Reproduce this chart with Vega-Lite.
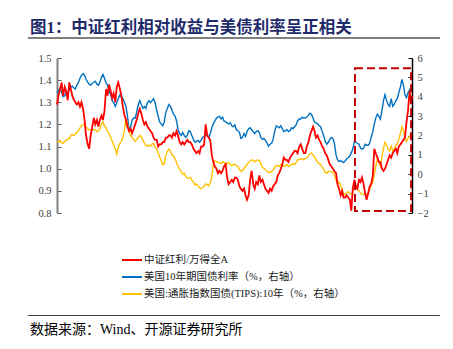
{
"$schema": "https://vega.github.io/schema/vega-lite/v6.json",
"width": 355, "height": 155,
"autosize": "none",
"padding": {"left": 57, "top": 58, "right": 41, "bottom": 136},
"background": "white",
"title": {"text": "图1：中证红利相对收益与美债利率呈正相关", "anchor": "start", "frame": "group", "dx": -27, "offset": 1, "fontSize": 16.5, "fontWeight": "bold", "color": "#1F2C6B", "font": "Liberation Serif, Noto Sans CJK SC"},
"config": {"view": {"stroke": null}, "axis": {"grid": false, "labelFont": "Liberation Serif", "labelFontSize": 10.5, "labelColor": "#404040"}},
"data": {"values": [
{"t":2005.00,"red":1.29,"ust":4.2,"tips":1.7},
{"t":2005.08,"red":1.33,"ust":4.3,"tips":1.65},
{"t":2005.17,"red":1.36,"ust":4.45,"tips":1.75},
{"t":2005.25,"red":1.39,"ust":4.25,"tips":1.62},
{"t":2005.33,"red":1.33,"ust":4.0,"tips":1.6},
{"t":2005.42,"red":1.37,"ust":4.05,"tips":1.7},
{"t":2005.50,"red":1.35,"ust":4.25,"tips":1.75},
{"t":2005.58,"red":1.31,"ust":4.2,"tips":1.8},
{"t":2005.67,"red":1.39,"ust":4.35,"tips":1.85},
{"t":2005.75,"red":1.36,"ust":4.5,"tips":2.0},
{"t":2005.83,"red":1.33,"ust":4.55,"tips":2.05},
{"t":2005.92,"red":1.31,"ust":4.45,"tips":2.0},
{"t":2006.00,"red":1.30,"ust":4.4,"tips":2.1},
{"t":2006.08,"red":1.29,"ust":4.6,"tips":2.15},
{"t":2006.17,"red":1.30,"ust":4.75,"tips":2.25},
{"t":2006.25,"red":1.28,"ust":4.95,"tips":2.4},
{"t":2006.33,"red":1.30,"ust":5.1,"tips":2.5},
{"t":2006.42,"red":1.27,"ust":5.2,"tips":2.55},
{"t":2006.50,"red":1.22,"ust":5.1,"tips":2.6},
{"t":2006.58,"red":1.15,"ust":4.9,"tips":2.45},
{"t":2006.67,"red":1.11,"ust":4.75,"tips":2.35},
{"t":2006.75,"red":1.09,"ust":4.65,"tips":2.3},
{"t":2006.83,"red":1.15,"ust":4.6,"tips":2.3},
{"t":2006.92,"red":1.19,"ust":4.7,"tips":2.35},
{"t":2007.00,"red":1.23,"ust":4.75,"tips":2.3},
{"t":2007.08,"red":1.20,"ust":4.8,"tips":2.3},
{"t":2007.17,"red":1.22,"ust":4.65,"tips":2.2},
{"t":2007.25,"red":1.19,"ust":4.6,"tips":2.25},
{"t":2007.33,"red":1.22,"ust":4.75,"tips":2.35},
{"t":2007.42,"red":1.24,"ust":5.0,"tips":2.6},
{"t":2007.50,"red":1.22,"ust":5.15,"tips":2.7},
{"t":2007.58,"red":1.26,"ust":4.95,"tips":2.5},
{"t":2007.67,"red":1.36,"ust":4.7,"tips":2.4},
{"t":2007.75,"red":1.33,"ust":4.6,"tips":2.2},
{"t":2007.83,"red":1.38,"ust":4.3,"tips":2.1},
{"t":2007.92,"red":1.35,"ust":4.1,"tips":1.9},
{"t":2008.00,"red":1.32,"ust":3.8,"tips":1.7},
{"t":2008.08,"red":1.34,"ust":3.7,"tips":1.5},
{"t":2008.17,"red":1.30,"ust":3.5,"tips":1.3},
{"t":2008.25,"red":1.37,"ust":3.7,"tips":1.05},
{"t":2008.33,"red":1.39,"ust":3.9,"tips":1.4},
{"t":2008.42,"red":1.36,"ust":4.1,"tips":1.6},
{"t":2008.50,"red":1.33,"ust":4.0,"tips":1.7},
{"t":2008.58,"red":1.28,"ust":3.9,"tips":1.9},
{"t":2008.67,"red":1.24,"ust":3.7,"tips":2.3},
{"t":2008.75,"red":1.22,"ust":3.5,"tips":2.9},
{"t":2008.83,"red":1.19,"ust":3.0,"tips":2.6},
{"t":2008.92,"red":1.17,"ust":2.3,"tips":2.2},
{"t":2009.00,"red":1.18,"ust":2.4,"tips":2.0},
{"t":2009.08,"red":1.16,"ust":2.8,"tips":1.9},
{"t":2009.17,"red":1.18,"ust":2.9,"tips":1.8},
{"t":2009.25,"red":1.20,"ust":2.9,"tips":1.7},
{"t":2009.33,"red":1.22,"ust":3.2,"tips":1.8},
{"t":2009.42,"red":1.25,"ust":3.6,"tips":1.9},
{"t":2009.50,"red":1.27,"ust":3.8,"tips":2.0},
{"t":2009.58,"red":1.25,"ust":3.6,"tips":1.95},
{"t":2009.67,"red":1.22,"ust":3.4,"tips":1.75},
{"t":2009.75,"red":1.20,"ust":3.5,"tips":1.6},
{"t":2009.83,"red":1.21,"ust":3.4,"tips":1.5},
{"t":2009.92,"red":1.19,"ust":3.7,"tips":1.45},
{"t":2010.00,"red":1.18,"ust":3.8,"tips":1.5},
{"t":2010.08,"red":1.17,"ust":3.7,"tips":1.45},
{"t":2010.17,"red":1.16,"ust":3.8,"tips":1.55},
{"t":2010.25,"red":1.14,"ust":3.9,"tips":1.6},
{"t":2010.33,"red":1.13,"ust":3.7,"tips":1.4},
{"t":2010.42,"red":1.13,"ust":3.3,"tips":1.3},
{"t":2010.50,"red":1.10,"ust":3.0,"tips":1.1},
{"t":2010.58,"red":1.11,"ust":2.7,"tips":0.9},
{"t":2010.67,"red":1.11,"ust":2.6,"tips":0.7},
{"t":2010.75,"red":1.12,"ust":2.5,"tips":0.5},
{"t":2010.83,"red":1.12,"ust":2.7,"tips":0.55},
{"t":2010.92,"red":1.14,"ust":3.2,"tips":1.0},
{"t":2011.00,"red":1.14,"ust":3.4,"tips":1.2},
{"t":2011.08,"red":1.15,"ust":3.6,"tips":1.3},
{"t":2011.17,"red":1.15,"ust":3.5,"tips":1.2},
{"t":2011.25,"red":1.14,"ust":3.3,"tips":1.0},
{"t":2011.33,"red":1.16,"ust":3.1,"tips":0.95},
{"t":2011.42,"red":1.15,"ust":3.0,"tips":0.8},
{"t":2011.50,"red":1.17,"ust":2.75,"tips":0.6},
{"t":2011.58,"red":1.15,"ust":2.3,"tips":0.4},
{"t":2011.67,"red":1.12,"ust":2.1,"tips":0.25},
{"t":2011.75,"red":1.11,"ust":2.0,"tips":0.15},
{"t":2011.83,"red":1.12,"ust":2.15,"tips":0.0},
{"t":2011.92,"red":1.11,"ust":2.0,"tips":0.05},
{"t":2012.00,"red":1.12,"ust":1.9,"tips":-0.1},
{"t":2012.08,"red":1.13,"ust":2.0,"tips":-0.2},
{"t":2012.17,"red":1.12,"ust":2.25,"tips":-0.2},
{"t":2012.25,"red":1.12,"ust":2.2,"tips":-0.15},
{"t":2012.33,"red":1.11,"ust":2.0,"tips":-0.3},
{"t":2012.42,"red":1.09,"ust":1.8,"tips":-0.4},
{"t":2012.50,"red":1.08,"ust":1.65,"tips":-0.55},
{"t":2012.58,"red":1.07,"ust":1.7,"tips":-0.5},
{"t":2012.67,"red":1.08,"ust":1.75,"tips":-0.6},
{"t":2012.75,"red":1.07,"ust":1.65,"tips":-0.7},
{"t":2012.83,"red":1.10,"ust":1.75,"tips":-0.75},
{"t":2012.92,"red":1.10,"ust":1.9,"tips":-0.7},
{"t":2013.00,"red":1.11,"ust":1.95,"tips":-0.6},
{"t":2013.08,"red":1.20,"ust":2.0,"tips":-0.5},
{"t":2013.17,"red":1.15,"ust":2.0,"tips":-0.55},
{"t":2013.25,"red":1.14,"ust":1.9,"tips":-0.6},
{"t":2013.33,"red":1.13,"ust":2.1,"tips":-0.45},
{"t":2013.42,"red":1.06,"ust":2.4,"tips":-0.1},
{"t":2013.50,"red":1.03,"ust":2.6,"tips":0.55},
{"t":2013.58,"red":1.01,"ust":2.75,"tips":0.7},
{"t":2013.67,"red":1.00,"ust":2.9,"tips":0.65},
{"t":2013.75,"red":0.98,"ust":2.95,"tips":0.6},
{"t":2013.83,"red":0.99,"ust":3.0,"tips":0.6},
{"t":2013.92,"red":0.98,"ust":2.85,"tips":0.55},
{"t":2014.00,"red":0.99,"ust":2.95,"tips":0.65},
{"t":2014.08,"red":1.01,"ust":2.75,"tips":0.6},
{"t":2014.17,"red":1.02,"ust":2.7,"tips":0.5},
{"t":2014.25,"red":0.96,"ust":2.65,"tips":0.55},
{"t":2014.33,"red":0.93,"ust":2.6,"tips":0.6},
{"t":2014.42,"red":0.94,"ust":2.65,"tips":0.5},
{"t":2014.50,"red":0.95,"ust":2.5,"tips":0.45},
{"t":2014.58,"red":0.94,"ust":2.45,"tips":0.5},
{"t":2014.67,"red":0.96,"ust":2.55,"tips":0.5},
{"t":2014.75,"red":0.96,"ust":2.3,"tips":0.45},
{"t":2014.83,"red":0.95,"ust":2.25,"tips":0.4},
{"t":2014.92,"red":0.92,"ust":2.15,"tips":0.25},
{"t":2015.00,"red":0.91,"ust":1.85,"tips":0.15},
{"t":2015.08,"red":0.90,"ust":1.9,"tips":0.2},
{"t":2015.17,"red":0.91,"ust":2.1,"tips":0.3},
{"t":2015.25,"red":0.88,"ust":1.95,"tips":0.4},
{"t":2015.33,"red":0.86,"ust":2.2,"tips":0.5},
{"t":2015.42,"red":0.88,"ust":2.35,"tips":0.6},
{"t":2015.50,"red":0.95,"ust":2.4,"tips":0.7},
{"t":2015.58,"red":0.99,"ust":2.3,"tips":0.75},
{"t":2015.67,"red":0.93,"ust":2.2,"tips":0.7},
{"t":2015.75,"red":0.91,"ust":2.1,"tips":0.65},
{"t":2015.83,"red":0.94,"ust":2.2,"tips":0.7},
{"t":2015.92,"red":0.93,"ust":2.25,"tips":0.75},
{"t":2016.00,"red":0.97,"ust":2.15,"tips":0.7},
{"t":2016.08,"red":0.94,"ust":1.9,"tips":0.55},
{"t":2016.17,"red":0.95,"ust":1.8,"tips":0.35},
{"t":2016.25,"red":0.93,"ust":1.85,"tips":0.3},
{"t":2016.33,"red":0.91,"ust":1.75,"tips":0.25},
{"t":2016.42,"red":0.90,"ust":1.6,"tips":0.15},
{"t":2016.50,"red":0.89,"ust":1.45,"tips":0.1},
{"t":2016.58,"red":0.91,"ust":1.55,"tips":0.1},
{"t":2016.67,"red":0.90,"ust":1.6,"tips":0.15},
{"t":2016.75,"red":0.92,"ust":1.8,"tips":0.2},
{"t":2016.83,"red":0.93,"ust":2.2,"tips":0.35},
{"t":2016.92,"red":0.94,"ust":2.5,"tips":0.45},
{"t":2017.00,"red":0.97,"ust":2.45,"tips":0.45},
{"t":2017.08,"red":0.98,"ust":2.4,"tips":0.4},
{"t":2017.17,"red":1.00,"ust":2.5,"tips":0.5},
{"t":2017.25,"red":1.02,"ust":2.35,"tips":0.5},
{"t":2017.33,"red":1.05,"ust":2.2,"tips":0.4},
{"t":2017.42,"red":1.04,"ust":2.25,"tips":0.45},
{"t":2017.50,"red":1.04,"ust":2.3,"tips":0.5},
{"t":2017.58,"red":1.03,"ust":2.2,"tips":0.4},
{"t":2017.67,"red":1.05,"ust":2.25,"tips":0.45},
{"t":2017.75,"red":1.06,"ust":2.4,"tips":0.5},
{"t":2017.83,"red":1.07,"ust":2.35,"tips":0.55},
{"t":2017.92,"red":1.08,"ust":2.45,"tips":0.5},
{"t":2018.00,"red":1.08,"ust":2.55,"tips":0.6},
{"t":2018.08,"red":1.07,"ust":2.75,"tips":0.75},
{"t":2018.17,"red":1.10,"ust":2.85,"tips":0.75},
{"t":2018.25,"red":1.11,"ust":2.85,"tips":0.8},
{"t":2018.33,"red":1.09,"ust":2.95,"tips":0.8},
{"t":2018.42,"red":1.07,"ust":2.9,"tips":0.75},
{"t":2018.50,"red":1.07,"ust":2.9,"tips":0.8},
{"t":2018.58,"red":1.10,"ust":2.95,"tips":0.85},
{"t":2018.67,"red":1.12,"ust":3.05,"tips":0.95},
{"t":2018.75,"red":1.15,"ust":3.15,"tips":1.05},
{"t":2018.83,"red":1.17,"ust":3.1,"tips":1.1},
{"t":2018.92,"red":1.19,"ust":2.9,"tips":1.0},
{"t":2019.00,"red":1.17,"ust":2.7,"tips":0.9},
{"t":2019.08,"red":1.14,"ust":2.65,"tips":0.75},
{"t":2019.17,"red":1.15,"ust":2.6,"tips":0.6},
{"t":2019.25,"red":1.13,"ust":2.5,"tips":0.55},
{"t":2019.33,"red":1.12,"ust":2.45,"tips":0.5},
{"t":2019.42,"red":1.10,"ust":2.2,"tips":0.35},
{"t":2019.50,"red":1.09,"ust":2.0,"tips":0.25},
{"t":2019.58,"red":1.07,"ust":1.7,"tips":0.1},
{"t":2019.67,"red":1.06,"ust":1.55,"tips":0.05},
{"t":2019.75,"red":1.04,"ust":1.65,"tips":0.15},
{"t":2019.83,"red":1.02,"ust":1.8,"tips":0.15},
{"t":2019.92,"red":1.01,"ust":1.9,"tips":0.12},
{"t":2020.00,"red":1.00,"ust":1.85,"tips":0.1},
{"t":2020.08,"red":0.99,"ust":1.6,"tips":-0.05},
{"t":2020.17,"red":0.98,"ust":1.0,"tips":-0.3},
{"t":2020.25,"red":0.93,"ust":0.75,"tips":-0.5},
{"t":2020.33,"red":0.91,"ust":0.65,"tips":-0.4},
{"t":2020.42,"red":0.88,"ust":0.7,"tips":-0.55},
{"t":2020.50,"red":0.90,"ust":0.65,"tips":-0.8},
{"t":2020.58,"red":0.87,"ust":0.6,"tips":-1.0},
{"t":2020.67,"red":0.87,"ust":0.7,"tips":-1.05},
{"t":2020.75,"red":0.88,"ust":0.8,"tips":-0.95},
{"t":2020.83,"red":0.87,"ust":0.85,"tips":-0.9},
{"t":2020.92,"red":0.86,"ust":0.95,"tips":-1.0},
{"t":2021.00,"red":0.81,"ust":1.1,"tips":-1.0},
{"t":2021.08,"red":0.91,"ust":1.3,"tips":-0.95},
{"t":2021.17,"red":0.95,"ust":1.7,"tips":-0.7},
{"t":2021.25,"red":0.92,"ust":1.65,"tips":-0.65},
{"t":2021.33,"red":0.91,"ust":1.6,"tips":-0.8},
{"t":2021.42,"red":0.95,"ust":1.55,"tips":-0.85},
{"t":2021.50,"red":0.94,"ust":1.35,"tips":-0.95},
{"t":2021.58,"red":0.96,"ust":1.3,"tips":-1.05},
{"t":2021.67,"red":0.93,"ust":1.35,"tips":-1.05},
{"t":2021.75,"red":0.89,"ust":1.55,"tips":-0.95},
{"t":2021.83,"red":0.86,"ust":1.5,"tips":-1.05},
{"t":2021.92,"red":0.89,"ust":1.5,"tips":-1.0},
{"t":2022.00,"red":0.92,"ust":1.6,"tips":-0.8},
{"t":2022.08,"red":0.93,"ust":1.9,"tips":-0.55},
{"t":2022.17,"red":0.97,"ust":2.2,"tips":-0.4},
{"t":2022.25,"red":1.09,"ust":2.6,"tips":0.0},
{"t":2022.33,"red":1.07,"ust":2.9,"tips":0.4},
{"t":2022.42,"red":1.05,"ust":3.1,"tips":0.85},
{"t":2022.50,"red":1.03,"ust":3.0,"tips":0.6},
{"t":2022.58,"red":1.03,"ust":2.85,"tips":0.4},
{"t":2022.67,"red":1.00,"ust":3.3,"tips":0.9},
{"t":2022.75,"red":0.99,"ust":3.8,"tips":1.35},
{"t":2022.83,"red":1.00,"ust":4.1,"tips":1.65},
{"t":2022.92,"red":1.02,"ust":3.8,"tips":1.5},
{"t":2023.00,"red":1.04,"ust":3.6,"tips":1.3},
{"t":2023.08,"red":1.06,"ust":3.5,"tips":1.2},
{"t":2023.17,"red":1.05,"ust":3.9,"tips":1.45},
{"t":2023.25,"red":1.07,"ust":3.5,"tips":1.2},
{"t":2023.33,"red":1.08,"ust":3.6,"tips":1.3},
{"t":2023.42,"red":1.09,"ust":3.8,"tips":1.5},
{"t":2023.50,"red":1.07,"ust":3.9,"tips":1.55},
{"t":2023.58,"red":1.10,"ust":4.2,"tips":1.8},
{"t":2023.67,"red":1.11,"ust":4.5,"tips":2.1},
{"t":2023.75,"red":1.12,"ust":4.9,"tips":2.45},
{"t":2023.83,"red":1.13,"ust":4.6,"tips":2.3},
{"t":2023.92,"red":1.14,"ust":4.1,"tips":1.8},
{"t":2024.00,"red":1.21,"ust":3.95,"tips":1.7},
{"t":2024.08,"red":1.26,"ust":4.2,"tips":1.85},
{"t":2024.17,"red":1.35,"ust":4.35,"tips":1.95},
{"t":2024.25,"red":1.30,"ust":4.5,"tips":2.05},
{"t":2024.30,"red":1.33,"ust":4.45,"tips":2.1}
]},
"layer": [
{
 "transform": [{"fold": ["ust", "tips"], "as": ["k", "v"]}],
 "mark": {"type": "line", "strokeWidth": 1.4},
 "encoding": {
  "x": {"field": "t", "type": "quantitative", "scale": {"domain": [2005, 2024.3], "nice": false, "zero": false},
        "axis": {"orient": "bottom", "title": null, "values": [2005,2006,2007,2008,2009,2010,2011,2012,2013,2014,2015,2016,2017,2018,2019,2020,2021,2022,2023,2024], "format": "d", "labelAngle": 270, "labelAlign": "right", "labelBaseline": "middle", "labelOverlap": false, "labelFlush": false, "tickSize": -4, "labelPadding": 6, "domainColor": "#808080", "domainWidth": 2, "tickColor": "#595959"}},
  "y": {"field": "v", "type": "quantitative", "scale": {"domain": [-2, 6], "nice": false, "zero": false},
        "axis": {"orient": "right", "title": null, "values": [-2,-1,0,1,2,3,4,5,6], "format": "d", "tickSize": -4, "labelPadding": 9, "domainColor": "#000000", "domainWidth": 1.5, "tickColor": "#000000"}},
  "color": {"field": "k", "type": "nominal", "scale": {"domain": ["red", "ust", "tips"], "range": ["#FF0000", "#0070C0", "#FFC000"]},
            "legend": {"orient": "none", "legendX": 64, "legendY": 191, "direction": "vertical", "title": null, "symbolType": "stroke", "symbolSize": 400, "symbolStrokeWidth": 2, "labelOffset": 1, "rowPadding": -6, "labelFontSize": 10.5, "labelFont": "Liberation Serif, Noto Sans CJK SC", "labelColor": "#222222", "labelLimit": 400,
                       "labelExpr": "datum.label == 'red' ? '中证红利/万得全A' : datum.label == 'ust' ? '美国10年期国债利率（%，右轴）' : '美国:通胀指数国债(TIPS):10年（%，右轴）'"}}
 }
},
{
 "mark": {"type": "line", "strokeWidth": 1.8},
 "encoding": {
  "x": {"field": "t", "type": "quantitative", "scale": {"domain": [2005, 2024.3], "nice": false, "zero": false}, "axis": null},
  "y": {"field": "red", "type": "quantitative", "scale": {"domain": [0.8, 1.5], "nice": false, "zero": false},
        "axis": {"orient": "left", "title": null, "values": [0.8,0.9,1.0,1.1,1.2,1.3,1.4,1.5], "format": ".1f", "tickSize": -4, "labelPadding": 10, "domainColor": "#808080", "domainWidth": 2, "tickColor": "#595959"}},
  "color": {"datum": "red", "type": "nominal"}
 }
},
{
 "data": {"values": [{}]},
 "mark": {"type": "rect", "filled": false, "stroke": "#C00000", "strokeWidth": 2, "strokeDash": [8, 4]},
 "encoding": {
  "x": {"datum": 2021.2, "type": "quantitative", "scale": {"domain": [2005, 2024.3], "nice": false, "zero": false}, "axis": null},
  "x2": {"datum": 2024.25},
  "y": {"datum": 5.47, "type": "quantitative", "scale": {"domain": [-2, 6], "nice": false, "zero": false}, "axis": null},
  "y2": {"datum": -1.9}
 }
},
{
 "data": {"values": [{}]},
 "mark": {"type": "rule", "color": "#7F7F7F", "strokeWidth": 2},
 "encoding": {
  "x": {"datum": 2003.42, "type": "quantitative", "scale": {"domain": [2005, 2024.3], "nice": false, "zero": false}, "axis": null},
  "x2": {"datum": 2025.82},
  "y": {"datum": 7.03, "type": "quantitative", "scale": {"domain": [-2, 6], "nice": false, "zero": false}, "axis": null}
 }
},
{
 "data": {"values": [{}]},
 "mark": {"type": "rule", "color": "#404040", "strokeWidth": 1.2},
 "encoding": {
  "x": {"datum": 2003.42, "type": "quantitative", "scale": {"domain": [2005, 2024.3], "nice": false, "zero": false}, "axis": null},
  "x2": {"datum": 2025.82},
  "y": {"datum": -7.29, "type": "quantitative", "scale": {"domain": [-2, 6], "nice": false, "zero": false}, "axis": null}
 }
},
{
 "data": {"values": [{}]},
 "mark": {"type": "text", "text": "数据来源：Wind、开源证券研究所", "align": "left", "baseline": "middle", "fontSize": 14, "font": "Liberation Serif, Noto Sans CJK SC", "color": "#000000"},
 "encoding": {
  "x": {"datum": 2003.53, "type": "quantitative", "scale": {"domain": [2005, 2024.3], "nice": false, "zero": false}, "axis": null},
  "y": {"datum": -8.05, "type": "quantitative", "scale": {"domain": [-2, 6], "nice": false, "zero": false}, "axis": null}
 }
}
],
"resolve": {"scale": {"y": "independent"}}
}
